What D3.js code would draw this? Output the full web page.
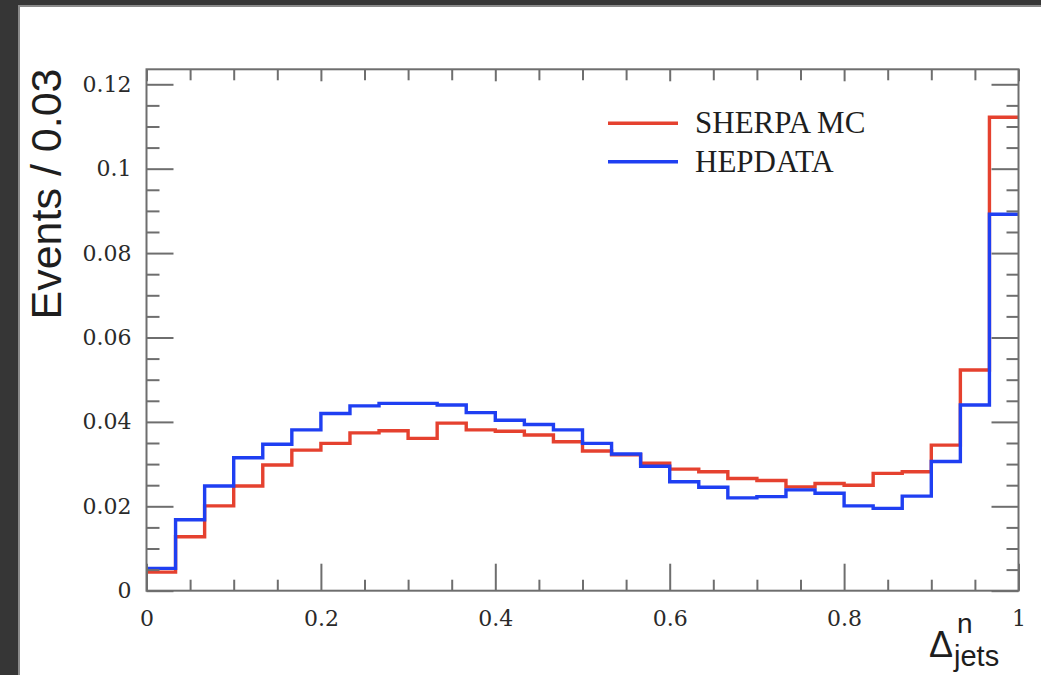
<!DOCTYPE html>
<html>
<head>
<meta charset="utf-8">
<script src="https://cdn.jsdelivr.net/npm/d3@7/dist/d3.min.js"></script>
<style>
  html, body { margin: 0; padding: 0; background: #363636; }
  svg { display: block; }
</style>
</head>
<body>
<svg id="chart" width="1041" height="675"></svg>
<script>
// ---- data ----
const binWidth = 1 / 30;
const seriesNames = ["SHERPA MC", "HEPDATA"];
const sherpa = [0.0044, 0.0128, 0.0201, 0.0248, 0.0298, 0.0333, 0.0349, 0.0374, 0.0379, 0.0361,
                0.0397, 0.0381, 0.0378, 0.0369, 0.0353, 0.0331, 0.0322, 0.0302, 0.0288, 0.0282,
                0.0266, 0.0261, 0.0246, 0.0254, 0.0250, 0.0278, 0.0282, 0.0345, 0.0523, 0.1122];
const hepdata = [0.0053, 0.0168, 0.0248, 0.0315, 0.0347, 0.0381, 0.0420, 0.0438, 0.0444, 0.0444,
                 0.0440, 0.0422, 0.0404, 0.0394, 0.0381, 0.0349, 0.0324, 0.0295, 0.0258, 0.0245,
                 0.0220, 0.0223, 0.0239, 0.0231, 0.0201, 0.0195, 0.0224, 0.0306, 0.0440, 0.0892];
const xMajorTicks = [0, 0.2, 0.4, 0.6, 0.8, 1];
const xMinorTicks = [0.05, 0.1, 0.15, 0.25, 0.3, 0.35, 0.45, 0.5, 0.55, 0.65, 0.7, 0.75, 0.85, 0.9, 0.95];
const yMajorTicks = [0, 0.02, 0.04, 0.06, 0.08, 0.1, 0.12];
const yMinorTicks = [0.005, 0.01, 0.015, 0.025, 0.03, 0.035, 0.045, 0.05, 0.055, 0.065, 0.07, 0.075,
                     0.085, 0.09, 0.095, 0.105, 0.11, 0.115];
const yLabel = "Events / 0.03";

// ---- layout ----
const L = 146.5, R = 1018.5, T = 69.3, B = 590.7;
const colors = ["#e5412f", "#1f3ff2"];
const axisColor = "#6e6e6e";

const svg = d3.select("#chart");
// frame
svg.append("rect").attr("x", 0).attr("y", 0).attr("width", 1041).attr("height", 675).attr("fill", "#363636");
svg.append("rect").attr("x", 18).attr("y", 5).attr("width", 1041).attr("height", 675).attr("fill", "#8a8a8a");
svg.append("rect").attr("x", 20).attr("y", 7).attr("width", 1041).attr("height", 675).attr("fill", "#ffffff");

const x = d3.scaleLinear().domain([0, 1]).range([L, R]);
const y = d3.scaleLinear().domain([0, 0.12355]).range([B, T]);

// ---- histograms ----
function stepPoints(vals) {
  const pts = [];
  vals.forEach((v, i) => {
    pts.push([i * binWidth, v]);
    pts.push([(i + 1) * binWidth, v]);
  });
  return pts;
}
const line = d3.line().x(d => x(d[0])).y(d => y(d[1]));
[sherpa, hepdata].forEach((vals, k) => {
  svg.append("path")
    .attr("d", line(stepPoints(vals)))
    .attr("fill", "none")
    .attr("stroke", colors[k])
    .attr("stroke-width", 3.4)
    .attr("stroke-linejoin", "miter");
});

// ---- axes ----
function styleAxis(g) {
  g.selectAll("path.domain").attr("stroke", "none");
  g.selectAll(".tick line").attr("stroke", axisColor).attr("stroke-width", 2);
  g.selectAll(".tick text")
    .attr("fill", "#2a2a2a")
    .attr("font-family", "'DejaVu Serif', serif")
    .attr("font-size", 22);
}
const fmt = d3.format("~g");

// bottom
svg.append("g").attr("transform", `translate(0,${B})`)
  .call(d3.axisBottom(x).tickValues(xMajorTicks).tickSizeInner(-27).tickSizeOuter(0).tickPadding(20).tickFormat(fmt))
  .call(styleAxis);
svg.append("g").attr("transform", `translate(0,${B})`)
  .call(d3.axisBottom(x).tickValues(xMinorTicks).tickSizeInner(-11).tickSizeOuter(0).tickFormat(""))
  .call(styleAxis);
// top
svg.append("g").attr("transform", `translate(0,${T})`)
  .call(d3.axisTop(x).tickValues(xMajorTicks).tickSizeInner(-12).tickSizeOuter(0).tickFormat(""))
  .call(styleAxis);
svg.append("g").attr("transform", `translate(0,${T})`)
  .call(d3.axisTop(x).tickValues(xMinorTicks).tickSizeInner(-11).tickSizeOuter(0).tickFormat(""))
  .call(styleAxis);
// left
svg.append("g").attr("transform", `translate(${L},0)`)
  .call(d3.axisLeft(y).tickValues(yMajorTicks).tickSizeInner(-27).tickSizeOuter(0).tickPadding(15).tickFormat(fmt))
  .call(styleAxis);
svg.append("g").attr("transform", `translate(${L},0)`)
  .call(d3.axisLeft(y).tickValues(yMinorTicks).tickSizeInner(-13).tickSizeOuter(0).tickFormat(""))
  .call(styleAxis);
// right
svg.append("g").attr("transform", `translate(${R},0)`)
  .call(d3.axisRight(y).tickValues(yMajorTicks).tickSizeInner(-27).tickSizeOuter(0).tickFormat(""))
  .call(styleAxis);
svg.append("g").attr("transform", `translate(${R},0)`)
  .call(d3.axisRight(y).tickValues(yMinorTicks).tickSizeInner(-12).tickSizeOuter(0).tickFormat(""))
  .call(styleAxis);

// frame box
svg.append("rect")
  .attr("x", L).attr("y", T).attr("width", R - L).attr("height", B - T)
  .attr("fill", "none").attr("stroke", axisColor).attr("stroke-width", 2);

// ---- axis labels ----
svg.append("text")
  .attr("transform", `translate(61,194) rotate(-90)`)
  .attr("text-anchor", "middle")
  .attr("font-family", "'Liberation Sans', Arial, sans-serif")
  .attr("font-size", 43)
  .attr("fill", "#1e1e1e")
  .text(yLabel);

const xl = svg.append("text")
  .attr("font-family", "'Liberation Sans', Arial, sans-serif")
  .attr("fill", "#1e1e1e");
xl.append("tspan").attr("x", 929).attr("y", 657).attr("font-size", 36).text("Δ");
xl.append("tspan").attr("x", 957).attr("y", 633).attr("font-size", 28).text("n");
xl.append("tspan").attr("x", 954).attr("y", 666).attr("font-size", 29).text("jets");

// ---- legend ----
const legY = [123.3, 161.7];
seriesNames.forEach((name, k) => {
  svg.append("line")
    .attr("x1", 608).attr("x2", 678)
    .attr("y1", legY[k]).attr("y2", legY[k])
    .attr("stroke", colors[k]).attr("stroke-width", 3.4);
  svg.append("text")
    .attr("x", 695).attr("y", legY[k] + 10)
    .attr("font-family", "'Liberation Serif', 'Times New Roman', serif")
    .attr("font-size", 31)
    .attr("fill", "#1e1e1e")
    .text(name);
});
</script>
</body>
</html>
